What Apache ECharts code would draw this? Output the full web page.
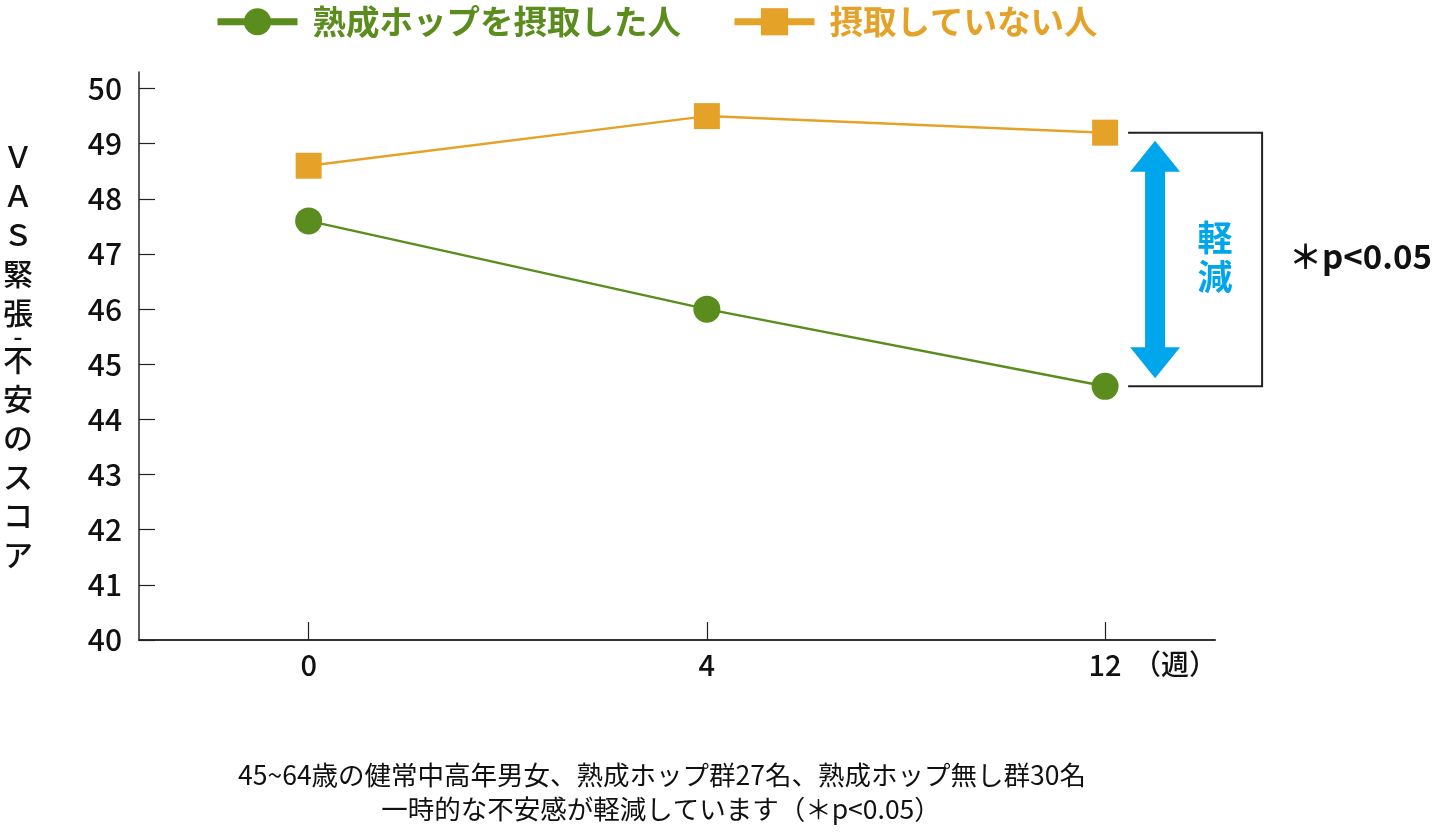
<!DOCTYPE html>
<html>
<head>
<meta charset="utf-8">
<script src="https://cdn.jsdelivr.net/npm/echarts@6/dist/echarts.min.js"></script>
<style>
html,body{margin:0;padding:0;background:#fff;}
#main{width:1433px;height:839px;}
</style>
</head>
<body>
<div id="main"></div>
<script>
// ---- data ----
const weekLabels = ['0', '4', '12'];
const seriesNames = ['熟成ホップを摂取した人', '摂取していない人'];
const hopValues = [47.6, 46.0, 44.6];
const noHopValues = [48.6, 49.5, 49.2];
const yTickValues = [40, 41, 42, 43, 44, 45, 46, 47, 48, 49, 50];
const yAxisTitleChars = ['Ｖ', 'Ａ', 'Ｓ', '緊', '張', '-', '不', '安', 'の', 'ス', 'コ', 'ア'];
const unitLabel = '（週）';
const sigLabel = '＊p<0.05';
const effectLabel = ['軽', '減'];
const noteLines = [
  '45~64歳の健常中高年男女、熟成ホップ群27名、熟成ホップ無し群30名',
  '一時的な不安感が軽減しています（＊p<0.05）'
];

const FONT = '"Noto Sans CJK JP", "Noto Sans", sans-serif';
const GREEN = '#5a8c1e';
const ORANGE = '#e5a228';
const BLUE = '#00a6eb';
const INK = '#111';

const chart = echarts.init(document.getElementById('main'), null, {renderer: 'canvas'});

const xIdx = weekLabels.map((_, i) => i);

const yName = yAxisTitleChars.map(c => c === '-' ? '{h|-}' : '{c|' + c + '}').join('\n');

const option = {
  backgroundColor: '#fff',
  animation: false,
  textStyle: {fontFamily: FONT},
  legend: {
    left: 209,
    top: 0,
    itemWidth: 80,
    itemHeight: 34,
    itemGap: 50,
    lineStyle: {width: 7},
    data: [
      {name: seriesNames[0], textStyle: {color: GREEN}},
      {name: seriesNames[1], textStyle: {color: ORANGE}}
    ],
    textStyle: {fontSize: 33.5, fontWeight: 'bold', fontFamily: FONT, padding: [0, 0, 0, 10]}
  },
  grid: {left: 138, right: 218, top: 72, bottom: 199, containLabel: false},
  xAxis: {
    type: 'value',
    min: -0.426,
    max: 2.276,
    splitLine: {show: false},
    axisLine: {show: true, onZero: false, lineStyle: {color: '#333', width: 2}},
    axisTick: {show: true, inside: true, length: 18, lineStyle: {color: '#222', width: 1.2}, customValues: xIdx},
    axisLabel: {
      customValues: xIdx,
      formatter: v => weekLabels[Math.round(v)],
      fontSize: 29, fontWeight: 500, color: INK, margin: 10, fontFamily: FONT
    }
  },
  yAxis: {
    type: 'value',
    min: 40,
    max: 50.3,
    interval: 1,
    splitLine: {show: false},
    axisLine: {show: true, onZero: false, lineStyle: {color: '#222', width: 1.5}},
    axisTick: {show: true, inside: true, length: 16, lineStyle: {color: '#222', width: 1.2}, customValues: yTickValues},
    axisLabel: {customValues: yTickValues, fontSize: 30, fontWeight: 500, color: INK, margin: 17, fontFamily: FONT},
    name: yName,
    nameLocation: 'middle',
    nameRotate: 0,
    nameGap: 121,
    nameTextStyle: {
      align: 'center', verticalAlign: 'middle',
      rich: {
        c: {fontSize: 30, lineHeight: 39, fontWeight: 500, color: INK, fontFamily: FONT},
        h: {fontSize: 26, lineHeight: 8, fontWeight: 500, color: INK, fontFamily: FONT}
      }
    }
  },
  series: [
    {
      name: seriesNames[0],
      type: 'line',
      data: hopValues.map((v, i) => [i, v]),
      symbol: 'circle',
      symbolSize: 27,
      itemStyle: {color: GREEN},
      lineStyle: {color: GREEN, width: 2.5},
      z: 3
    },
    {
      name: seriesNames[1],
      type: 'line',
      data: noHopValues.map((v, i) => [i, v]),
      symbol: 'rect',
      symbolSize: 26,
      itemStyle: {color: ORANGE},
      lineStyle: {color: ORANGE, width: 2.5},
      z: 3
    }
  ]
};

chart.setOption(option);

// annotations anchored to the last data points
const last = weekLabels.length - 1;
const pTop = chart.convertToPixel({gridIndex: 0}, [last, noHopValues[last]]);
const pBot = chart.convertToPixel({gridIndex: 0}, [last, hopValues[last]]);
const px = pTop[0], yT = pTop[1], yB = pBot[1];
const midY = (yT + yB) / 2;
const ax = px + 50;
const tipT = yT + 8, tipB = yB - 8, headH = 31, headW = 25, shaftW = 10;

chart.setOption({
  graphic: [
    {
      type: 'polyline',
      shape: {points: [[px + 23, yT], [px + 157, yT], [px + 157, yB], [px + 23, yB]]},
      style: {stroke: '#222', lineWidth: 2, fill: null}
    },
    {
      type: 'polygon',
      shape: {points: [
        [ax, tipT], [ax + headW, tipT + headH], [ax + shaftW, tipT + headH],
        [ax + shaftW, tipB - headH], [ax + headW, tipB - headH], [ax, tipB],
        [ax - headW, tipB - headH], [ax - shaftW, tipB - headH],
        [ax - shaftW, tipT + headH], [ax - headW, tipT + headH]
      ]},
      style: {fill: BLUE}
    },
    {
      type: 'text',
      x: px + 110, y: midY - 2,
      style: {text: effectLabel.join('\n'), fill: BLUE, font: 'bold 35px ' + FONT, lineHeight: 39, align: 'center', verticalAlign: 'middle'}
    },
    {
      type: 'text',
      x: px + 184, y: midY - 3,
      style: {text: sigLabel, fill: INK, font: 'bold 33px ' + FONT, align: 'left', verticalAlign: 'middle'}
    },
    {
      type: 'text',
      x: 1217, y: 664,
      style: {text: unitLabel, fill: INK, font: '500 28px ' + FONT, align: 'right', verticalAlign: 'middle'}
    },
    {
      type: 'text',
      x: 662, y: 775,
      style: {text: noteLines[0], fill: INK, font: '26.5px ' + FONT, align: 'center', verticalAlign: 'middle'}
    },
    {
      type: 'text',
      x: 661, y: 809,
      style: {text: noteLines[1], fill: INK, font: '26.5px ' + FONT, align: 'center', verticalAlign: 'middle'}
    }
  ]
});
</script>
</body>
</html>
